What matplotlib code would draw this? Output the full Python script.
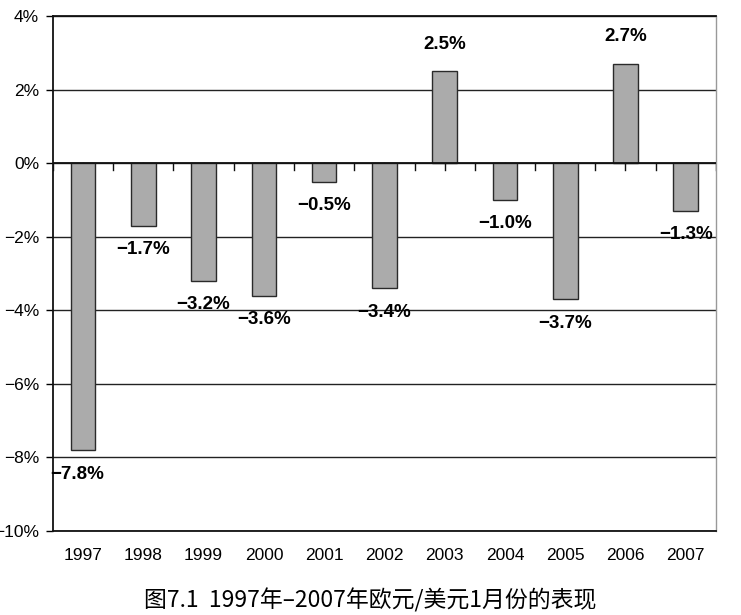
import numpy as np
import matplotlib
matplotlib.use("Agg")
import matplotlib.pyplot as plt

# Data
years = ["1997", "1998", "1999", "2000", "2001", "2002",
         "2003", "2004", "2005", "2006", "2007"]
values = [-7.8, -1.7, -3.2, -3.6, -0.5, -3.4, 2.5, -1.0, -3.7, 2.7, -1.3]
y_ticks = [-10, -8, -6, -4, -2, 0, 2, 4]
caption = "图7.1  1997年–2007年欧元/美元1月份的表现"

latin = ["Liberation Sans", "DejaVu Sans"]
cjk = ["Noto Sans CJK SC", "DejaVu Sans"]

fig = plt.figure(figsize=(7.41, 6.15), dpi=100)
ax = fig.add_axes([0.0715, 0.1366, 0.8945, 0.8374])

x = np.arange(len(years))
ax.bar(x, values, width=0.41, color="#ababab", edgecolor="#2a2a2a",
       linewidth=1.0, zorder=3)

# gridlines
for t in y_ticks:
    ax.axhline(t, color="#222222", linewidth=1.0, zorder=1)
ax.axhline(0, color="#111111", linewidth=1.3, zorder=4)

# small tick marks on the zero line
for xt in np.arange(-0.5, len(years), 0.5):
    ax.plot([xt, xt], [0, -0.18], color="#111111", linewidth=1.0, zorder=2)

# value labels
for xi, v in zip(x, values):
    if v >= 0:
        ax.text(xi, v + 0.5, f"{v:.1f}%", ha="center", va="bottom",
                fontsize=13.5, fontweight="bold", family=latin, zorder=5)
    else:
        dx = -0.1 if xi == 0 else 0
        ax.text(xi + dx, v - 0.42, f"\u2212{abs(v):.1f}%", ha="center", va="top",
                fontsize=13.5, fontweight="bold", family=latin, zorder=5)

ax.set_xlim(-0.5, len(years) - 0.5)
ax.set_ylim(-10, 4)
ax.set_yticks(y_ticks)
ax.set_yticklabels([(f"\u2212{abs(t)}%" if t < 0 else f"{t}%") for t in y_ticks],
                   family=latin, fontsize=12.5)
ax.set_xticks(x)
ax.set_xticklabels(years, family=latin, fontsize=12.5)
ax.tick_params(axis="x", length=0, pad=12)
ax.tick_params(axis="y", length=5, width=1.0, pad=5, direction="out")

for side in ["left", "bottom", "top"]:
    ax.spines[side].set_color("#111111")
    ax.spines[side].set_linewidth(1.3)
ax.spines["right"].set_color("#999999")
ax.spines["right"].set_linewidth(1.0)

fig.text(0.5, 0.004, caption, ha="center", va="bottom",
         fontsize=16.5, family=cjk)

fig.savefig("out.png", dpi=100)
